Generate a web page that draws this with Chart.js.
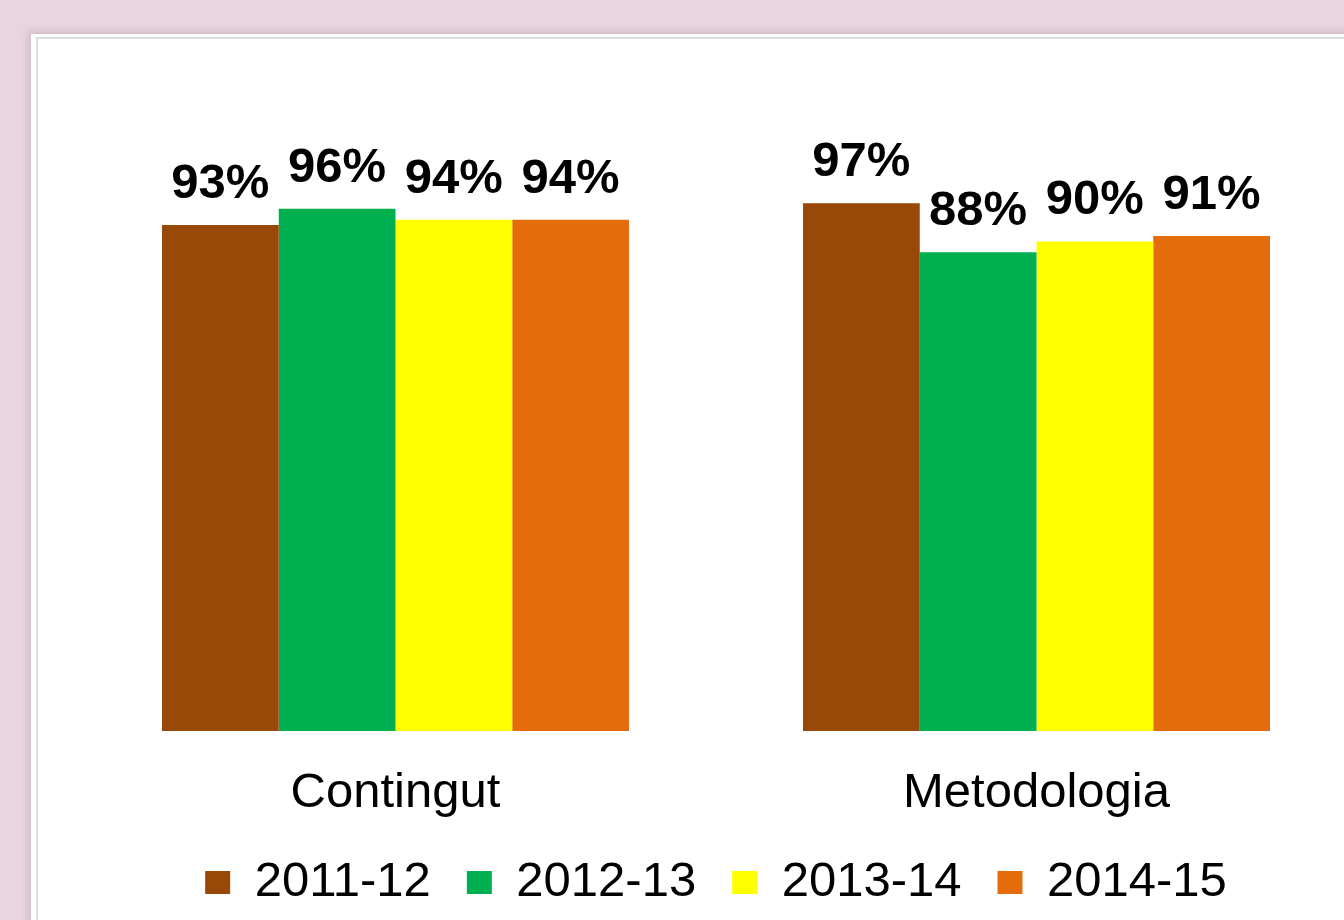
<!DOCTYPE html>
<html>
<head>
<meta charset="utf-8">
<script src="https://cdn.jsdelivr.net/npm/chart.js@4.4.1/dist/chart.umd.min.js"></script>
<style>
  html, body { margin: 0; padding: 0; width: 1344px; height: 920px; overflow: hidden; background: #e8d5df; }
  #panel { position: absolute; left: 31px; top: 34px; width: 1400px; height: 1000px; background: #ffffff;
           box-shadow: -4px -4px 6px rgba(180,150,165,0.35); }
  #inner { position: absolute; left: 36px; top: 37px; width: 1400px; height: 1000px; border-left: 2px solid #dcdcdc; border-top: 2px solid #dcdcdc; }
  #wrap { position: absolute; left: 0; top: 0; }
</style>
</head>
<body>
<div id="panel"></div>
<div id="inner"></div>
<div id="wrap"><canvas id="c" width="1400" height="920"></canvas></div>
<script>
const categories = ['Contingut', 'Metodologia'];
const seriesNames = ['2011-12', '2012-13', '2013-14', '2014-15'];
const values2011 = [93, 97];
const values2012 = [96, 88];
const values2013 = [94, 90];
const values2014 = [94, 91];
const seriesColors = ['#984807', '#00b050', '#ffff00', '#e46c0a'];

const allValues = [values2011, values2012, values2013, values2014];

const valueLabels = {
  id: 'valueLabels',
  afterDatasetsDraw(chart) {
    const ctx = chart.ctx;
    ctx.save();
    ctx.font = 'bold 49px "Liberation Sans", Arial, sans-serif';
    ctx.fillStyle = '#000000';
    ctx.textAlign = 'center';
    ctx.textBaseline = 'alphabetic';
    chart.data.datasets.forEach((ds, i) => {
      const meta = chart.getDatasetMeta(i);
      meta.data.forEach((bar, j) => {
        ctx.fillText(ds.data[j] + '%', bar.x, bar.y - 27);
      });
    });
    ctx.restore();
  }
};

new Chart(document.getElementById('c'), {
  type: 'bar',
  data: {
    labels: categories,
    datasets: seriesNames.map((name, i) => ({
      label: name,
      data: allValues[i],
      backgroundColor: seriesColors[i],
      borderWidth: 0,
      barPercentage: 1.0,
      categoryPercentage: 0.7285
    }))
  },
  options: {
    responsive: false,
    animation: false,
    layout: { padding: { left: 75, right: 43, top: 187, bottom: 3 } },
    plugins: {
      tooltip: { enabled: false },
      legend: {
        position: 'bottom',
        labels: {
          font: { family: '"Liberation Sans", Arial, sans-serif', size: 49 },
          color: '#000000',
          boxWidth: 25,
          boxHeight: 23,
          padding: 36
        }
      }
    },
    scales: {
      x: {
        grid: { display: false, drawTicks: false },
        border: { display: false },
        afterFit(scale) { scale.height = 91; },
        ticks: {
          font: { family: '"Liberation Sans", Arial, sans-serif', size: 49, lineHeight: 0.857 },
          color: '#000000',
          padding: 41
        }
      },
      y: {
        display: false,
        min: 0,
        max: 100
      }
    }
  },
  plugins: [valueLabels]
});
</script>
</body>
</html>
